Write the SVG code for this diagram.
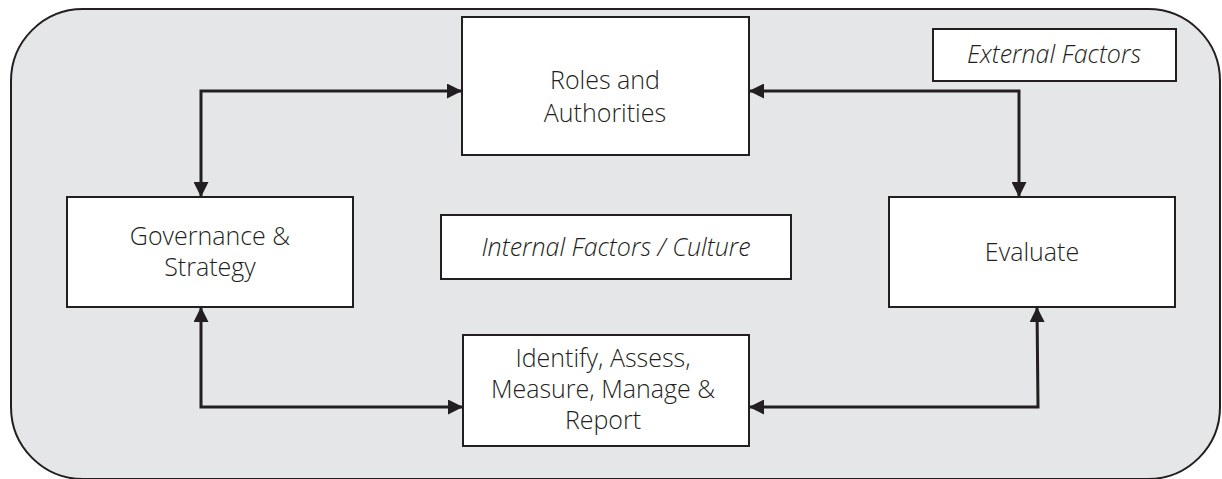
<svg xmlns="http://www.w3.org/2000/svg" width="1222" height="479" viewBox="0 0 1222 479">
<defs>
<style>
.bg{fill:#e5e6e8;stroke:#231f20;stroke-width:2}
.box{fill:#ffffff;stroke:#231f20;stroke-width:2}
.t{font-family:"Open Sans","Noto Sans","Liberation Sans",sans-serif;font-size:25px;font-weight:300;fill:#231f20;text-anchor:middle}
.i{font-style:italic}
.c{fill:none;stroke:#231f20;stroke-width:3}
</style>
<marker id="ah" viewBox="0 0 10 10" refX="10" refY="5" markerWidth="5" markerHeight="5" orient="auto-start-reverse" markerUnits="strokeWidth">
<path d="M0,0 L10,5 L0,10 Z" fill="#231f20"/>
</marker>
</defs>
<rect class="bg" x="11" y="9" width="1209" height="470" rx="72" ry="72"/>
<g id="connectors">
<polyline class="c" points="201,197 201,91 462,91" marker-start="url(#ah)" marker-end="url(#ah)"/>
<polyline class="c" points="749,91 1019,91 1019,197" marker-start="url(#ah)" marker-end="url(#ah)"/>
<polyline class="c" points="201,307 201,407 463,407" marker-start="url(#ah)" marker-end="url(#ah)"/>
<polyline class="c" points="749,407 1038,407 1037,307" marker-start="url(#ah)" marker-end="url(#ah)"/>
</g>
<g id="roles">
<rect class="box" x="462" y="17" width="287" height="138"/>
<text class="t" x="605" y="89">Roles and</text>
<text class="t" x="605" y="122">Authorities</text>
</g>
<g id="external">
<rect class="box" x="933" y="29" width="243" height="52"/>
<text class="t i" x="1054" y="63">External Factors</text>
</g>
<g id="governance">
<rect class="box" x="67" y="197" width="286" height="110"/>
<text class="t" x="210" y="245">Governance &amp;</text>
<text class="t" x="210" y="276">Strategy</text>
</g>
<g id="internal">
<rect class="box" x="441" y="215" width="350" height="64"/>
<text class="t i" x="616" y="256">Internal Factors / Culture</text>
</g>
<g id="evaluate">
<rect class="box" x="889" y="197" width="286" height="110"/>
<text class="t" x="1032" y="261">Evaluate</text>
</g>
<g id="identify">
<rect class="box" x="463" y="335" width="286" height="111"/>
<text class="t" x="603" y="367">Identify, Assess,</text>
<text class="t" x="603" y="398">Measure, Manage &amp;</text>
<text class="t" x="603" y="429">Report</text>
</g>
</svg>
